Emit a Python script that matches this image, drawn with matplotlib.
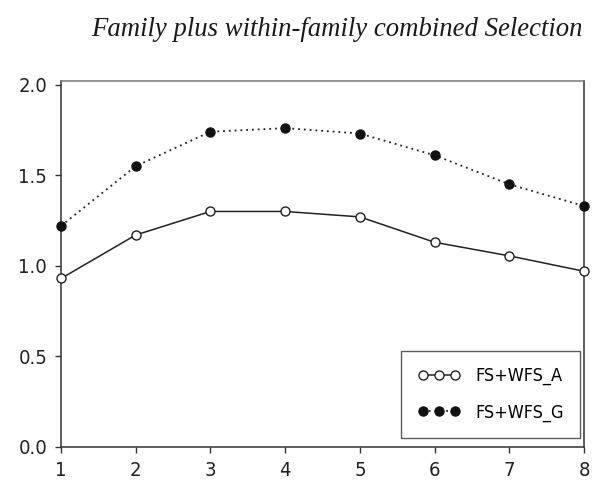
import matplotlib
matplotlib.use("Agg")
import matplotlib.pyplot as plt

# Generations and response values for the two selection criteria
generations = [1, 2, 3, 4, 5, 6, 7, 8]
fs_wfs_a = [0.93, 1.17, 1.30, 1.30, 1.27, 1.13, 1.055, 0.97]
fs_wfs_g = [1.22, 1.55, 1.74, 1.76, 1.73, 1.61, 1.45, 1.33]
y_ticks = [0.0, 0.5, 1.0, 1.5, 2.0]
y_tick_labels = ["0.0", "0.5", "1.0", "1.5", "2.0"]
x_tick_labels = ["1", "2", "3", "4", "5", "6", "7", "8"]
title = "Family plus within-family combined Selection"

tick_font = ["DejaVu Sans"]

fig = plt.figure(figsize=(5.96, 4.83), dpi=100)
ax = fig.add_axes([61 / 596, 1 - 447 / 483, (584 - 61) / 596, (447 - 81) / 483])

ax.plot(generations, fs_wfs_a, color="#222222", lw=1.1, ls="-",
        marker="o", ms=6.5, mfc="white", mec="#222222", mew=1.0,
        label="FS+WFS_A", clip_on=False, zorder=3)
ax.plot(generations, fs_wfs_g, color="#222222", lw=1.3, ls=(0, (1, 2.2)),
        marker="o", ms=6.5, mfc="#111111", mec="#111111",
        label="FS+WFS_G", clip_on=False, zorder=3)

ax.set_xlim(1, 8)
ax.set_ylim(0, 2.02)
ax.set_xticks(generations)
ax.set_xticklabels(x_tick_labels, family=tick_font, stretch="condensed",
                   fontsize=14.5, color="#222222")
ax.set_yticks(y_ticks)
ax.set_yticklabels(y_tick_labels, family=tick_font, stretch="condensed",
                   fontsize=14.5, color="#222222")
ax.tick_params(axis="both", direction="out", length=4, width=1, color="#333333", pad=6)

for side in ("left", "bottom", "right", "top"):
    ax.spines[side].set_color("#333333")
    ax.spines[side].set_linewidth(1.1)
ax.spines["top"].set_color("#777777")

leg = ax.legend(loc="lower right", numpoints=3, frameon=True, fancybox=False,
                edgecolor="#333333",
                prop={"family": tick_font, "stretch": "condensed", "size": 13},
                handlelength=2.4, handletextpad=0.8, borderpad=0.9,
                labelspacing=1.0, bbox_to_anchor=(0.992, 0.025),
                borderaxespad=0.0)
leg.get_frame().set_linewidth(1.0)

fig.text(583 / 596, 1 - 30 / 483, title, ha="right", va="center",
         family=["Liberation Serif", "DejaVu Serif"], style="italic",
         fontsize=19.3, color="#1a1a1a")

fig.savefig("out.png", dpi=100)
